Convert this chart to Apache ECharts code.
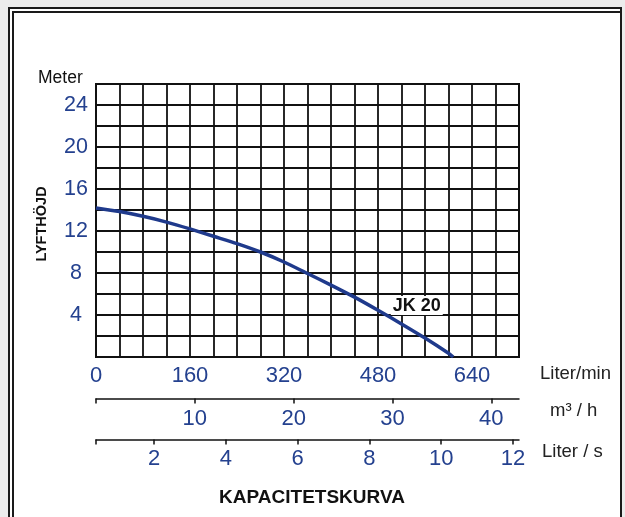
<!DOCTYPE html>
<html>
<head>
<meta charset="utf-8">
<script src="https://cdn.jsdelivr.net/npm/echarts@6/dist/echarts.min.js"></script>
<style>
  html, body { margin: 0; padding: 0; background: #ececec; }
  #wrap { position: relative; width: 625px; height: 517px; overflow: hidden; }
  #outer { position: absolute; left: 8px; top: 7px; width: 610px; height: 560px; border: 2px solid #1a1a1a; background: #fff; }
  #inner { position: absolute; left: 12px; top: 11px; width: 606px; height: 560px; border-left: 2px solid #1a1a1a; border-top: 2px solid #1a1a1a; }
  #chart { position: absolute; left: 0; top: 0; width: 625px; height: 517px; }
</style>
</head>
<body>
<div id="wrap">
  <div id="outer"></div>
  <div id="inner"></div>
  <div id="chart"></div>
</div>
<script>
// Data
const flowLpm = [0, 40, 80, 120, 160, 200, 240, 280, 320, 360, 400, 440, 480, 520, 560, 600, 608];
const headM   = [14.2, 13.85, 13.4, 12.85, 12.2, 11.5, 10.8, 10.0, 9.05, 7.95, 6.85, 5.7, 4.45, 3.15, 1.8, 0.35, 0];
const yLabels = [4, 8, 12, 16, 20, 24];
const lpmLabels = [0, 160, 320, 480, 640];
const m3hTicks = [0, 10, 20, 30, 40];
const m3hLabels = [10, 20, 30, 40];
const lpsTicks = [0.38, 2, 4, 6, 8, 10, 12];
const lpsLabels = [2, 4, 6, 8, 10, 12];
const curveName = 'JK 20';
const curveLabelAt = [546, 4.9];

const blue = '#24418f';
const ink = '#111';
const font = 'Liberation Sans, Arial, sans-serif';

const chart = echarts.init(document.getElementById('chart'), null, { renderer: 'canvas' });

const unitStyle = (t) => ({ text: t, font: '18.5px ' + font, fill: '#222', verticalAlign: 'middle' });

const option = {
  backgroundColor: 'transparent',
  animation: false,
  title: {
    text: 'KAPACITETSKURVA',
    left: 307, top: 483, textAlign: 'center',
    textStyle: { fontFamily: font, fontSize: 19, fontWeight: 'bold', color: ink }
  },
  graphic: [
    { type: 'text', x: 38, y: 78, style: { text: 'Meter', font: '17.5px ' + font, fill: ink, verticalAlign: 'middle' } },
    { type: 'text', x: 42, y: 224, rotation: Math.PI / 2,
      style: { text: 'LYFTHÖJD', font: 'bold 14.5px ' + font, fill: ink, align: 'center', verticalAlign: 'middle' } },
    { type: 'text', x: 540, y: 374, style: unitStyle('Liter/min') },
    { type: 'text', x: 550, y: 411, style: unitStyle('m³ / h') },
    { type: 'text', x: 542, y: 452, style: unitStyle('Liter / s') }
  ],
  grid: { left: 96, top: 84, right: 106, bottom: 160, show: true, borderColor: ink, borderWidth: 2, backgroundColor: 'transparent' },
  xAxis: [
    {
      type: 'value', min: 0, max: 720, interval: 40, position: 'bottom',
      axisLine: { show: true, lineStyle: { color: ink, width: 2 } },
      axisTick: { show: false },
      splitLine: { show: true, lineStyle: { color: ink, width: 1.8 } },
      axisLabel: {
        margin: 8, color: blue, fontFamily: font, fontSize: 22,
        formatter: v => lpmLabels.indexOf(v) >= 0 ? String(v) : ''
      }
    },
    {
      type: 'value', min: 0, max: 42.8, position: 'bottom', offset: 41.5,
      axisLine: { show: true, onZero: false, lineStyle: { color: ink, width: 1.5 } },
      axisTick: { show: true, length: 5, customValues: m3hTicks, lineStyle: { color: ink, width: 1.5 } },
      splitLine: { show: false },
      axisLabel: { margin: 9, color: blue, fontFamily: font, fontSize: 22, customValues: m3hLabels }
    },
    {
      type: 'value', min: 0.38, max: 12.17, position: 'bottom', offset: 82.6,
      axisLine: { show: true, onZero: false, lineStyle: { color: ink, width: 1.5 } },
      axisTick: { show: true, length: 5, customValues: lpsTicks, lineStyle: { color: ink, width: 1.5 } },
      splitLine: { show: false },
      axisLabel: { margin: 8, color: blue, fontFamily: font, fontSize: 22, customValues: lpsLabels }
    }
  ],
  yAxis: {
    type: 'value', min: 0, max: 26, interval: 2,
    axisLine: { show: true, lineStyle: { color: ink, width: 2 } },
    axisTick: { show: false },
    splitLine: { show: true, lineStyle: { color: ink, width: 1.8 } },
    axisLabel: {
      margin: 20, align: 'center', color: blue, fontFamily: font, fontSize: 21.5,
      formatter: v => yLabels.indexOf(v) >= 0 ? String(v) : ''
    }
  },
  series: [{
    type: 'line', name: curveName, xAxisIndex: 0, yAxisIndex: 0,
    data: flowLpm.map((f, i) => [f, headM[i]]),
    smooth: 0.25, symbol: 'none',
    lineStyle: { color: '#1f3a8c', width: 3.5 },
    markPoint: {
      symbol: 'rect', symbolSize: [52, 19], silent: true,
      itemStyle: { color: '#fff' },
      label: { show: true, position: 'inside', formatter: curveName, color: ink, fontFamily: font, fontSize: 18, fontWeight: 'bold' },
      data: [{ coord: curveLabelAt }]
    }
  }]
};
chart.setOption(option);
</script>
</body>
</html>
